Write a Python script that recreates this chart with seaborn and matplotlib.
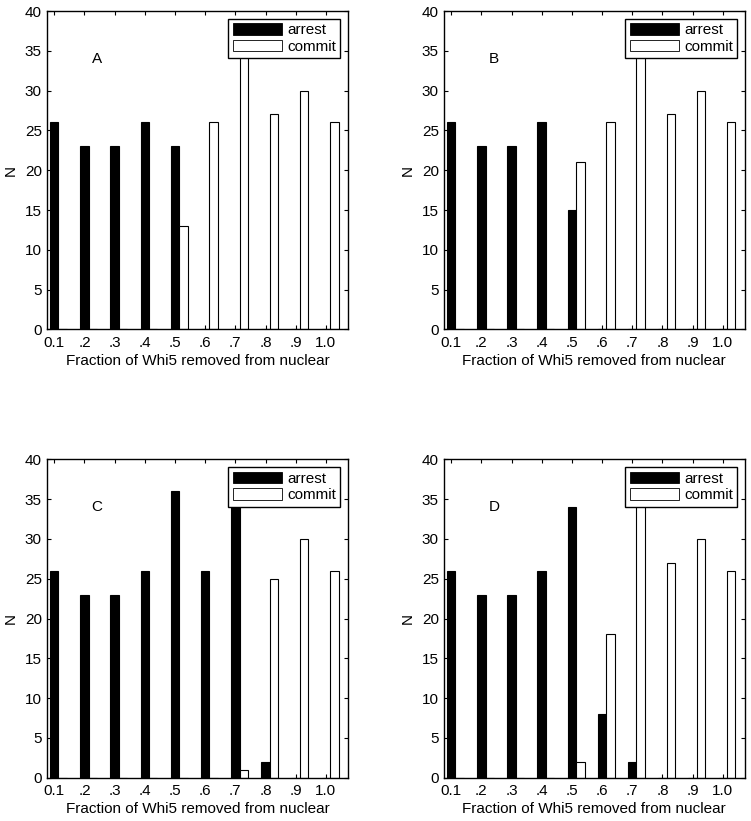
import pandas as pd
import matplotlib.pyplot as plt
import seaborn as sns

# Histogram counts
bins = [0.1, 0.2, 0.3, 0.4, 0.5, 0.6, 0.7, 0.8, 0.9, 1.0]
tick_labels = ['0.1', '.2', '.3', '.4', '.5', '.6', '.7', '.8', '.9', '1.0']
panel_names = ['A', 'B', 'C', 'D']

arrest_a = [26, 23, 23, 26, 23, 0, 0, 0, 0, 0]
commit_a = [0, 0, 0, 0, 13, 26, 38, 27, 30, 26]
arrest_b = [26, 23, 23, 26, 15, 0, 0, 0, 0, 0]
commit_b = [0, 0, 0, 0, 21, 26, 38, 27, 30, 26]
arrest_c = [26, 23, 23, 26, 36, 26, 37, 2, 0, 0]
commit_c = [0, 0, 0, 0, 0, 0, 1, 25, 30, 26]
arrest_d = [26, 23, 23, 26, 34, 8, 2, 0, 0, 0]
commit_d = [0, 0, 0, 0, 2, 18, 36, 27, 30, 26]

panels = [(arrest_a, commit_a), (arrest_b, commit_b),
          (arrest_c, commit_c), (arrest_d, commit_d)]

sns.set_style('ticks', rc={'axes.edgecolor': 'black', 'xtick.color': 'black',
                           'ytick.color': 'black', 'text.color': 'black',
                           'axes.labelcolor': 'black'})
plt.rcParams['font.family'] = ['Liberation Sans', 'DejaVu Sans']

fig, axes = plt.subplots(2, 2, figsize=(7.51, 8.21), dpi=100)
fig.subplots_adjust(left=0.0622, right=0.992, top=0.9866, bottom=0.0527,
                    wspace=0.317, hspace=0.408)

bar_width = 0.56
# arrest bar sits on the tick, commit bar next to it
tick_shift = 0.1 * bar_width / 4
fs = 11

for ax, name, (arrest, commit) in zip(axes.flat, panel_names, panels):
    df = pd.DataFrame({
        'fraction': bins + bins,
        'N': arrest + commit,
        'outcome': ['arrest'] * len(bins) + ['commit'] * len(bins),
    })
    sns.barplot(data=df, x='fraction', y='N', hue='outcome',
                hue_order=['arrest', 'commit'],
                palette={'arrest': 'black', 'commit': 'white'},
                native_scale=True, width=bar_width, errorbar=None,
                edgecolor='black', linewidth=0.8, ax=ax)

    leg = ax.get_legend()
    handles = leg.legend_handles
    labels = [t.get_text() for t in leg.get_texts()]
    leg.remove()
    for h in handles:
        h.set_edgecolor('black')
        h.set_linewidth(0.6)
    leg = ax.legend(handles, labels, loc='upper right', fancybox=False,
                    framealpha=1, edgecolor='black', fontsize=fs,
                    handlelength=3.2, handleheight=0.8, handletextpad=0.35,
                    labelspacing=0.15, borderpad=0.3, borderaxespad=0.5)
    leg.get_frame().set_linewidth(1.0)

    ax.set_xticks([b - tick_shift for b in bins])
    ax.set_xticklabels(tick_labels)
    ax.set_xlim(0.1 - tick_shift - 0.025, 1.0 - tick_shift + 0.0735)
    ax.set_ylim(0, 40)
    ax.set_yticks(range(0, 41, 5))
    ax.tick_params(direction='in', top=True, right=True, length=3,
                   width=0.8, labelsize=fs)
    ax.tick_params(axis='x', pad=4.5)
    ax.tick_params(axis='y', pad=3.5)
    for sp in ax.spines.values():
        sp.set_linewidth(1.0)
        sp.set_visible(True)

    ax.set_xlabel('Fraction of Whi5 removed from nuclear', fontsize=fs,
                  labelpad=3)
    ax.set_ylabel('N', fontsize=fs, labelpad=5)
    ax.text(0.167, 0.85, name, transform=ax.transAxes, ha='center',
            va='center', fontsize=fs)

plt.savefig('out.png', dpi=100)
